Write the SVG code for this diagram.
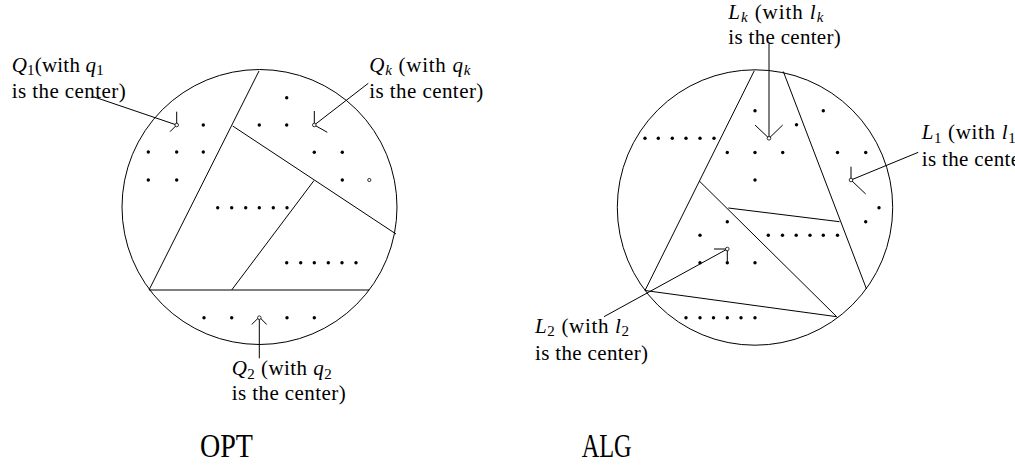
<svg xmlns="http://www.w3.org/2000/svg" width="1015" height="465" viewBox="0 0 1015 465">
<style>
.ln{stroke:#000;stroke-width:1;fill:none}
.dot{fill:#000}
.oc{fill:#fff;stroke:#000;stroke-width:0.8}
text{font-family:"Liberation Serif","DejaVu Serif","Times New Roman",serif;font-size:21px;fill:#000}
.it{font-style:italic}
.sb{font-size:15px}
.big{font-size:34px}
</style>
<defs>
<circle id="d" r="1.7" class="dot"/>
</defs>
<rect width="1015" height="465" fill="#fff"/>
<g id="opt">
<circle cx="259.5" cy="207" r="137.5" class="ln"/>
<path class="ln" d="M259,71 L149,290 M149,290 H369.3 M231.7,290 L314,180.5 M232.7,126 L396,234"/>
<g>
<use href="#d" x="203.3" y="125"/>
<use href="#d" x="148.3" y="152"/><use href="#d" x="176.7" y="152"/><use href="#d" x="203.3" y="152"/>
<use href="#d" x="148.3" y="180"/><use href="#d" x="176.7" y="180"/>
<use href="#d" x="286.7" y="97.7"/>
<use href="#d" x="259.3" y="125"/><use href="#d" x="286.7" y="125"/>
<use href="#d" x="314.3" y="152.3"/><use href="#d" x="342.3" y="152.3"/>
<use href="#d" x="342.3" y="180"/>
<use href="#d" x="217.7" y="207.7"/><use href="#d" x="231.7" y="207.7"/><use href="#d" x="245.7" y="207.7"/><use href="#d" x="259.3" y="207.7"/><use href="#d" x="273.3" y="207.7"/><use href="#d" x="287" y="207.7"/>
<use href="#d" x="286.7" y="262.7"/><use href="#d" x="300.7" y="262.7"/><use href="#d" x="314.3" y="262.7"/><use href="#d" x="328.3" y="262.7"/><use href="#d" x="342" y="262.7"/><use href="#d" x="356" y="262.7"/>
<use href="#d" x="204" y="317.7"/><use href="#d" x="231.7" y="317.7"/><use href="#d" x="287" y="317.7"/><use href="#d" x="314.3" y="317.7"/>
</g>
<circle cx="369.3" cy="180" r="1.6" class="oc"/>
</g>
<g id="alg">
<circle cx="755" cy="207.5" r="137.7" class="ln"/>
<path class="ln" d="M754.3,70.7 L645,290.5 M783.3,71.5 L866.5,289 M699.3,181 L836.7,316.7 M645,290.5 L836.7,316.7 M728.3,208 L839.5,221.7"/>
<g>
<use href="#d" x="755" y="110.7"/><use href="#d" x="823.3" y="110.7"/>
<use href="#d" x="796.5" y="124.8"/>
<use href="#d" x="645" y="138.3"/><use href="#d" x="658.3" y="138.3"/><use href="#d" x="672.3" y="138.3"/><use href="#d" x="686" y="138.3"/><use href="#d" x="700" y="138.3"/><use href="#d" x="714" y="138.3"/>
<use href="#d" x="727.3" y="152.5"/><use href="#d" x="755" y="152.5"/><use href="#d" x="782.7" y="152.5"/><use href="#d" x="837.5" y="152.5"/><use href="#d" x="865.7" y="152.5"/>
<use href="#d" x="755" y="180"/>
<use href="#d" x="879" y="207.7"/>
<use href="#d" x="727.3" y="221.7"/><use href="#d" x="865.7" y="221.7"/>
<use href="#d" x="700" y="235.2"/>
<use href="#d" x="768.3" y="235.2"/><use href="#d" x="782.5" y="235.2"/><use href="#d" x="796.2" y="235.2"/><use href="#d" x="810" y="235.2"/><use href="#d" x="823.3" y="235.2"/><use href="#d" x="837.5" y="235.2"/>
<use href="#d" x="700" y="262.7"/><use href="#d" x="727.3" y="262.7"/><use href="#d" x="755" y="262.7"/>
<use href="#d" x="686" y="317.7"/><use href="#d" x="700" y="317.7"/><use href="#d" x="713.5" y="317.7"/><use href="#d" x="727.3" y="317.7"/><use href="#d" x="741" y="317.7"/><use href="#d" x="755" y="317.7"/>
</g>
</g>
<g id="connectors">
<path class="ln" d="M93.3,96.7 L176.7,125 M176.7,125 V111.7 M176.7,125 L170,131.7"/>
<path class="ln" d="M368.3,83.3 L314.3,125 M314.3,125 V111 M314.3,125 L327.3,132.3"/>
<path class="ln" d="M259.3,358.3 V317.7 M258.8,317.5 L251.7,324.5 M259.8,317.5 L266.7,324.5"/>
<path class="ln" d="M769,44 V138.3 M769,138.3 L755,125 M769,138.3 L782.7,125"/>
<path class="ln" d="M918.3,152.3 L851,180 M851,180 V166.7 M851,180 L865.7,194"/>
<path class="ln" d="M604,316.7 L727.3,249 M727.3,249 H714 M727.3,249 V261"/>
<circle cx="176.7" cy="125" r="1.8" class="oc"/>
<circle cx="314.3" cy="125" r="1.8" class="oc"/>
<circle cx="259.3" cy="317.7" r="1.8" class="oc"/>
<circle cx="769" cy="138.3" r="1.8" class="oc"/>
<circle cx="851" cy="180" r="1.8" class="oc"/>
<circle cx="727.3" cy="249" r="1.8" class="oc"/>
</g>
<g id="label-q1">
<text x="11.7" y="71.5" textLength="92"><tspan class="it">Q</tspan><tspan class="sb" dy="3.5">1</tspan><tspan dy="-3.5">(with </tspan><tspan class="it">q</tspan><tspan class="sb" dy="3.5">1</tspan></text>
<text x="11.7" y="98" textLength="114">is the center)</text>
</g>
<g id="label-qk">
<text x="369.3" y="71.5" textLength="101"><tspan class="it">Q</tspan><tspan class="it sb" dy="3.5">k</tspan><tspan dy="-3.5"> (with </tspan><tspan class="it">q</tspan><tspan class="it sb" dy="3.5">k</tspan></text>
<text x="369.3" y="97.7" textLength="114">is the center)</text>
</g>
<g id="label-q2">
<text x="231.7" y="375" textLength="100"><tspan class="it">Q</tspan><tspan class="sb" dy="3.5">2</tspan><tspan dy="-3.5"> (with </tspan><tspan class="it">q</tspan><tspan class="sb" dy="3.5">2</tspan></text>
<text x="231.7" y="400" textLength="114">is the center)</text>
</g>
<g id="label-lk">
<text x="728.3" y="18.5" textLength="95"><tspan class="it">L</tspan><tspan class="it sb" dy="3.5">k</tspan><tspan dy="-3.5"> (with </tspan><tspan class="it">l</tspan><tspan class="it sb" dy="3.5">k</tspan></text>
<text x="728.3" y="43.5" textLength="112.5">is the center)</text>
</g>
<g id="label-l1">
<text x="921.7" y="139.3" textLength="94"><tspan class="it">L</tspan><tspan class="sb" dy="3.5">1</tspan><tspan dy="-3.5"> (with </tspan><tspan class="it">l</tspan><tspan class="sb" dy="3.5">1</tspan></text>
<text x="921.7" y="166" textLength="113">is the center)</text>
</g>
<g id="label-l2">
<text x="535" y="332.7" textLength="94"><tspan class="it">L</tspan><tspan class="sb" dy="3.5">2</tspan><tspan dy="-3.5"> (with </tspan><tspan class="it">l</tspan><tspan class="sb" dy="3.5">2</tspan></text>
<text x="535" y="360" textLength="113">is the center)</text>
</g>
<g id="title-opt"><text class="big" x="200" y="456.5" textLength="53" lengthAdjust="spacingAndGlyphs">OPT</text></g>
<g id="title-alg"><text class="big" x="581.7" y="456.5" textLength="50" lengthAdjust="spacingAndGlyphs">ALG</text></g>
</svg>
